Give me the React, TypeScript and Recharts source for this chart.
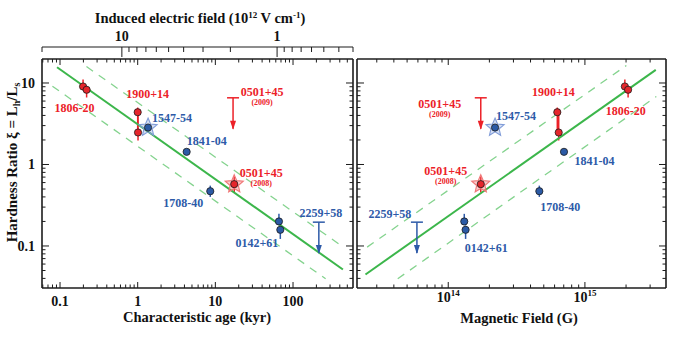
import React from 'react';
import { ComposedChart, Scatter, XAxis, YAxis, ErrorBar } from 'recharts';

const FONT = '"Liberation Serif", "Times New Roman", Times, serif';
const INK = '#1c1c1c';
const RED = '#ec2128';
const BLUE = '#2d5aa8';
const RED_DOT = '#e5262c';
const BLUE_DOT = '#2b5aa5';
const GREEN = '#3cb64b';
const LGREEN = '#84d38e';

// ---------- axis ticks ----------
const ageTicks = [0.06, 0.07, 0.08, 0.09, 0.1, 0.2, 0.3, 0.4, 0.5, 0.6, 0.7, 0.8, 0.9, 1, 2, 3, 4, 5, 6, 7, 8, 9, 10, 20, 30, 40, 50, 60, 70, 80, 90, 100, 200, 300, 400, 500];
const ageMajorTicks = [0.1, 1, 10, 100];
const hrTicks = [0.04, 0.05, 0.06, 0.07, 0.08, 0.09, 0.1, 0.2, 0.3, 0.4, 0.5, 0.6, 0.7, 0.8, 0.9, 1, 2, 3, 4, 5, 6, 7, 8, 9, 10];
const hrMajorTicks = [0.1, 1, 10];
const fieldTicks = [3e13, 4e13, 5e13, 6e13, 7e13, 8e13, 9e13, 1e14, 2e14, 3e14, 4e14, 5e14, 6e14, 7e14, 8e14, 9e14, 1e15, 2e15, 3e15];
const fieldMajorTicks = [1e14, 1e15];
const eTicks = [32.7, 10, 9, 8, 7, 6, 5, 4, 3, 2, 1, 0.9, 0.8, 0.7, 0.6, 0.5, 0.4, 0.3243];
const eMajorTicks = [10, 1];

const AGE_DOMAIN: [number, number] = [0.0586, 592];
const HR_DOMAIN: [number, number] = [0.0305, 19.7];
const E_DOMAIN: [number, number] = [0.3243, 32.7];
const FIELD_DOMAIN: [number, number] = [2.15e13, 3.92e15];

// ---------- measured sources ----------
const pointNames = ['1806-20', '1806-20', '1900+14', '1900+14', '1547-54', '1841-04', '1708-40', '0501+45', '0142+61', '0142+61'];
const pointEpoch = ['', '', '', '', '', '', '', '(2008)', '', ''];
const pointClass = ['SGR', 'SGR', 'SGR', 'SGR', 'AXP', 'AXP', 'AXP', 'SGR', 'AXP', 'AXP'];
const pointOutburst = [false, false, false, false, true, false, false, true, false, false];
const pointAge = [0.198, 0.22, 1.0, 1.01, 1.36, 4.27, 8.6, 17.5, 65.9, 68.6];
const pointField = [1.96e15, 2.07e15, 6.28e14, 6.43e14, 2.2e14, 7.03e14, 4.64e14, 1.73e14, 1.31e14, 1.34e14];
const pointHR = [9.06, 8.26, 4.38, 2.47, 2.84, 1.43, 0.47, 0.574, 0.2, 0.158];
const pointErrLow = [0.9, 1.62, 1.91, 0.5, 0, 0, 0.07, 0.12, 0.02, 0.036];
const pointErrHigh = [1.94, 0.8, 0.62, 1.91, 0, 0, 0.08, 0.14, 0.048, 0.02];

// ---------- upper limits ----------
const limitNames = ['0501+45', '2259+58'];
const limitEpoch = ['(2009)', ''];
const limitClass = ['SGR', 'AXP'];
const limitAge = [16.9, 215];
const limitField = [1.73e14, 5.9e13];
const limitHR = [6.58, 0.196];
const limitArrowHR = [2.74, 0.082];

// ---------- fitted relations (end points) ----------
const ageFitX = [0.0915, 439];
const ageFitY = [15.6, 0.0515];
const ageUpperX = [0.219, 418];
const ageUpperY = [15.9, 0.101];
const ageLowerX = [0.0798, 263];
const ageLowerY = [9.14, 0.0396];
const fieldFitX = [2.48e13, 3.3e15];
const fieldFitY = [0.0447, 14.5];
const fieldUpperX = [2.55e13, 2.01e15];
const fieldUpperY = [0.0968, 16.4];
const fieldLowerX = [4.27e13, 3.33e15];
const fieldLowerY = [0.0396, 6.83];

// ---------- label placement (pixel offsets from the source) ----------
const AGE_LABEL_OFFSETS: Record<string, [number, number]> = {
  '1806-20': [-8.6, 21],
  '1900+14': [10, -18],
  '1547-54': [24, -9.5],
  '1841-04': [20, -10.6],
  '1708-40': [-27, 11.6],
  '0501+45 (2008)': [27, -11.4],
  '0142+61': [-22, 21.7],
  '2259+58': [2, -9],
  '0501+45 (2009)': [29, -6],
};
const FIELD_LABEL_OFFSETS: Record<string, [number, number]> = {
  '1806-20': [1, 24],
  '1900+14': [-4, -20.7],
  '1547-54': [21, -12],
  '1841-04': [30.5, 9],
  '1708-40': [21, 16],
  '0501+45 (2008)': [-35, -13.3],
  '0142+61': [22, 26.6],
  '2259+58': [-27, -8.4],
  '0501+45 (2009)': [-41, 6],
};

// ---------- builders ----------
const pair = (xs: number[], ys: number[]) => xs.map((x, i) => ({ x, y: ys[i] }));

function buildPoints(xs: number[], cls: string) {
  return pointNames
    .map((name, i) => ({
      name,
      x: xs[i],
      y: pointHR[i],
      err: [pointErrLow[i], pointErrHigh[i]],
      cls: pointClass[i],
      star: pointOutburst[i],
    }))
    .filter((p) => p.cls === cls);
}
function buildStars(xs: number[]) {
  return pointNames
    .map((name, i) => ({ name, x: xs[i], y: pointHR[i], cls: pointClass[i], star: pointOutburst[i] }))
    .filter((p) => p.star);
}
function buildLimit(xs: number[], i: number) {
  return [
    { x: xs[i], y: limitHR[i], kind: 'cap' },
    { x: xs[i], y: limitArrowHR[i], kind: 'tip' },
  ];
}
function buildLabels(xs: number[], limXs: number[]) {
  const seen = new Set<string>();
  const out: any[] = [];
  pointNames.forEach((name, i) => {
    const key = pointEpoch[i] ? `${name} ${pointEpoch[i]}` : name;
    if (seen.has(key)) return;
    seen.add(key);
    out.push({ x: xs[i], y: pointHR[i], name, epoch: pointEpoch[i], key, cls: pointClass[i] });
  });
  limitNames.forEach((name, i) => {
    const key = limitEpoch[i] ? `${name} ${limitEpoch[i]}` : name;
    out.push({ x: limXs[i], y: limitHR[i], name, epoch: limitEpoch[i], key, cls: limitClass[i] });
  });
  return out;
}

// ---------- shapes ----------
const dotShape = (fill: string) => (p: any) => (
  <circle cx={p.cx} cy={p.cy} r={3.6} fill={fill} stroke="#1a1a1a" strokeWidth={0.8} />
);
const starPath = (cx: number, cy: number, R: number, r: number) => {
  let d = '';
  for (let k = 0; k < 10; k++) {
    const a = -Math.PI / 2 + (k * Math.PI) / 5;
    const rad = k % 2 === 0 ? R : r;
    d += (k ? 'L' : 'M') + (cx + rad * Math.cos(a)).toFixed(2) + ',' + (cy + rad * Math.sin(a)).toFixed(2);
  }
  return d + 'Z';
};
const starShape = (p: any) => {
  const red = p.payload.cls === 'SGR';
  return (
    <path
      d={starPath(p.cx, p.cy, 9.5, 4.3)}
      fill={red ? 'rgba(240,110,110,0.35)' : 'rgba(130,160,220,0.35)'}
      stroke={red ? '#f07777' : '#7f9bd8'}
      strokeWidth={1.1}
    />
  );
};
const limitShape = (color: string) => (p: any) =>
  p.payload.kind === 'cap' ? (
    <line x1={p.cx - 6} x2={p.cx + 6} y1={p.cy} y2={p.cy} stroke={color} strokeWidth={1.5} />
  ) : (
    <path d={`M${p.cx},${p.cy + 1} L${p.cx - 3},${p.cy - 8} L${p.cx + 3},${p.cy - 8} Z`} fill={color} />
  );
const labelShape = (offsets: Record<string, [number, number]>) => (p: any) => {
  const d = p.payload;
  const off = offsets[d.key] || [0, 0];
  const tx = p.cx + off[0];
  const ty = p.cy + off[1];
  const color = d.cls === 'SGR' ? RED : BLUE;
  return (
    <g>
      <text x={tx} y={ty + 4.2} textAnchor="middle" fontFamily={FONT} fontWeight="bold" fontSize={12} fill={color}>
        {d.name}
      </text>
      {d.epoch ? (
        <text x={tx} y={ty + 13.3} textAnchor="middle" fontFamily={FONT} fontWeight="bold" fontSize={8} fill={color}>
          {d.epoch}
        </text>
      ) : null}
    </g>
  );
};
const noShape = () => <g />;

// ---------- ticks ----------
type Side = 'bottom' | 'top' | 'left' | 'right';
const makeTick =
  (side: Side, majors: number[], major: number, minor: number, label?: (v: number, x: number, y: number) => React.ReactNode) =>
  (props: any) => {
    const { x, y, payload } = props;
    const v = Number(payload.value);
    const isMajor = majors.some((m) => Math.abs(m - v) <= Math.abs(m) * 1e-6);
    const len = isMajor ? major : minor;
    let x2 = x;
    let y2 = y;
    if (side === 'bottom') y2 = y - len;
    if (side === 'top') y2 = y + len;
    if (side === 'left') x2 = x + len;
    if (side === 'right') x2 = x - len;
    return (
      <g>
        <line x1={x} y1={y} x2={x2} y2={y2} stroke={INK} strokeWidth={1} />
        {isMajor && label ? label(v, x, y) : null}
      </g>
    );
  };

const tickText = { fontFamily: FONT, fontWeight: 'bold' as const, fontSize: 14, fill: '#111' };
const bottomNum = (v: number, x: number, y: number) => (
  <text x={x} y={y + 18} textAnchor="middle" {...tickText}>{String(v)}</text>
);
const leftNum = (v: number, x: number, y: number) => (
  <text x={x - 7} y={y + 5} textAnchor="end" {...tickText}>{String(v)}</text>
);
const topNum = (v: number, x: number, y: number) => (
  <text x={x} y={y - 6} textAnchor="middle" {...tickText}>{String(v)}</text>
);
const powNum = (v: number, x: number, y: number) => (
  <text x={x} y={y + 14} textAnchor="middle" {...tickText}>
    <tspan>10</tspan>
    <tspan dy={-6} fontSize={9}>{String(Math.round(Math.log10(v)))}</tspan>
  </text>
);

const AXIS = { stroke: INK, strokeWidth: 1.6 };
const axisCommon = {
  type: 'number' as const,
  scale: 'log' as const,
  allowDataOverflow: true,
  interval: 0 as const,
  tickSize: 0,
  tickMargin: 0,
  tickLine: false,
  axisLine: AXIS,
};

// ---------- titles ----------
const titleStyle = { fontFamily: FONT, fontWeight: 'bold' as const, fontSize: 14.5, fill: '#111' };
const ETitle = () => (
  <text x={200} y={23} textAnchor="middle" {...titleStyle}>
    <tspan>Induced electric field (10</tspan>
    <tspan dy={-5} fontSize={9}>12</tspan>
    <tspan dy={5}> V cm</tspan>
    <tspan dy={-5} fontSize={9}>-1</tspan>
    <tspan dy={5}>)</tspan>
  </text>
);
const AgeTitle = () => (
  <text x={197} y={322} textAnchor="middle" {...titleStyle}>Characteristic age (kyr)</text>
);
const FieldTitle = () => (
  <text x={179} y={323} textAnchor="middle" {...titleStyle}>Magnetic Field (G)</text>
);
const YTitle = () => (
  <text transform="translate(16.5,162.5) rotate(-90)" textAnchor="middle" {...titleStyle} fontSize={15}>
    <tspan>Hardness Ratio ξ = L</tspan>
    <tspan dy={3} fontSize={10}>h</tspan>
    <tspan dy={-3}>/L</tspan>
    <tspan dy={3} fontSize={10}>s</tspan>
  </text>
);

function Panel(props: { kind: 'age' | 'field' }) {
  const isAge = props.kind === 'age';
  const xs = isAge ? pointAge : pointField;
  const limXs = isAge ? limitAge : limitField;
  const xDomain = isAge ? AGE_DOMAIN : FIELD_DOMAIN;
  const xTicks = isAge ? ageTicks : fieldTicks;
  const xMajors = isAge ? ageMajorTicks : fieldMajorTicks;
  const fit = isAge ? pair(ageFitX, ageFitY) : pair(fieldFitX, fieldFitY);
  const upper = isAge ? pair(ageUpperX, ageUpperY) : pair(fieldUpperX, fieldUpperY);
  const lower = isAge ? pair(ageLowerX, ageLowerY) : pair(fieldLowerX, fieldLowerY);
  const offsets = isAge ? AGE_LABEL_OFFSETS : FIELD_LABEL_OFFSETS;
  const width = isAge ? 356 : 340;

  return (
    <ComposedChart width={width} height={340} margin={{ top: isAge ? 0 : 47, right: 0, bottom: 0, left: 0 }}>
      <XAxis
        {...axisCommon}
        xAxisId="b"
        dataKey="x"
        orientation="bottom"
        domain={xDomain}
        ticks={xTicks}
        height={52}
        tick={makeTick('bottom', xMajors, 6, 3.5, isAge ? bottomNum : powNum)}
        label={isAge ? <AgeTitle /> : <FieldTitle />}
      />
      <XAxis
        {...axisCommon}
        xAxisId="a"
        dataKey="x"
        orientation="top"
        domain={xDomain}
        ticks={xTicks}
        height={12}
        tick={makeTick('top', xMajors, 6, 3.5)}
      />
      {isAge ? (
        <XAxis
          {...axisCommon}
          xAxisId="z"
          dataKey="x"
          orientation="top"
          domain={E_DOMAIN}
          reversed
          ticks={eTicks}
          height={47}
          axisLine={{ stroke: INK, strokeWidth: 1.2 }}
          tick={makeTick('top', eMajorTicks, 10, 5, topNum)}
          label={<ETitle />}
        />
      ) : null}
      <YAxis
        {...axisCommon}
        yAxisId="l"
        dataKey="y"
        orientation="left"
        domain={HR_DOMAIN}
        ticks={hrTicks}
        width={isAge ? 42 : 17}
        tick={makeTick('left', hrMajorTicks, 7, 3.5, isAge ? leftNum : undefined)}
        label={isAge ? <YTitle /> : undefined}
      />
      <YAxis
        {...axisCommon}
        yAxisId="r"
        dataKey="y"
        orientation="right"
        domain={HR_DOMAIN}
        ticks={hrTicks}
        width={isAge ? 3 : 14}
        tick={makeTick('right', hrMajorTicks, 7, 3.5)}
      />

      <Scatter xAxisId="a" yAxisId="r" data={upper} shape={noShape} line={{ stroke: LGREEN, strokeWidth: 1.3, strokeDasharray: '8 7' }} isAnimationActive={false} />
      <Scatter xAxisId="a" yAxisId="r" data={lower} shape={noShape} line={{ stroke: LGREEN, strokeWidth: 1.3, strokeDasharray: '8 7' }} isAnimationActive={false} />
      <Scatter xAxisId="b" yAxisId="l" data={fit} shape={noShape} line={{ stroke: GREEN, strokeWidth: 2 }} isAnimationActive={false} />

      <Scatter xAxisId="b" yAxisId="l" data={buildStars(xs)} shape={starShape} isAnimationActive={false} />

      <Scatter xAxisId="b" yAxisId="l" data={buildLimit(limXs, 0)} shape={limitShape(RED)} line={{ stroke: RED, strokeWidth: 1.5 }} isAnimationActive={false} />
      <Scatter xAxisId="b" yAxisId="l" data={buildLimit(limXs, 1)} shape={limitShape(BLUE)} line={{ stroke: BLUE, strokeWidth: 1.5 }} isAnimationActive={false} />

      <Scatter xAxisId="b" yAxisId="l" data={buildPoints(xs, 'SGR')} shape={dotShape(RED_DOT)} isAnimationActive={false}>
        <ErrorBar dataKey="err" direction="y" width={0} stroke={RED} strokeWidth={1.5} />
      </Scatter>
      <Scatter xAxisId="b" yAxisId="l" data={buildPoints(xs, 'AXP')} shape={dotShape(BLUE_DOT)} isAnimationActive={false}>
        <ErrorBar dataKey="err" direction="y" width={0} stroke={BLUE} strokeWidth={1.5} />
      </Scatter>

      <Scatter xAxisId="b" yAxisId="l" data={buildLabels(xs, limXs)} shape={labelShape(offsets)} isAnimationActive={false} />
    </ComposedChart>
  );
}

export default function App() {
  return (
    <div style={{ position: 'absolute', left: 0, top: 0, width: 680, height: 340, background: '#fff' }}>
      <div style={{ position: 'absolute', left: 0, top: 0 }}>
        <Panel kind="age" />
      </div>
      <div style={{ position: 'absolute', left: 340, top: 0 }}>
        <Panel kind="field" />
      </div>
    </div>
  );
}
